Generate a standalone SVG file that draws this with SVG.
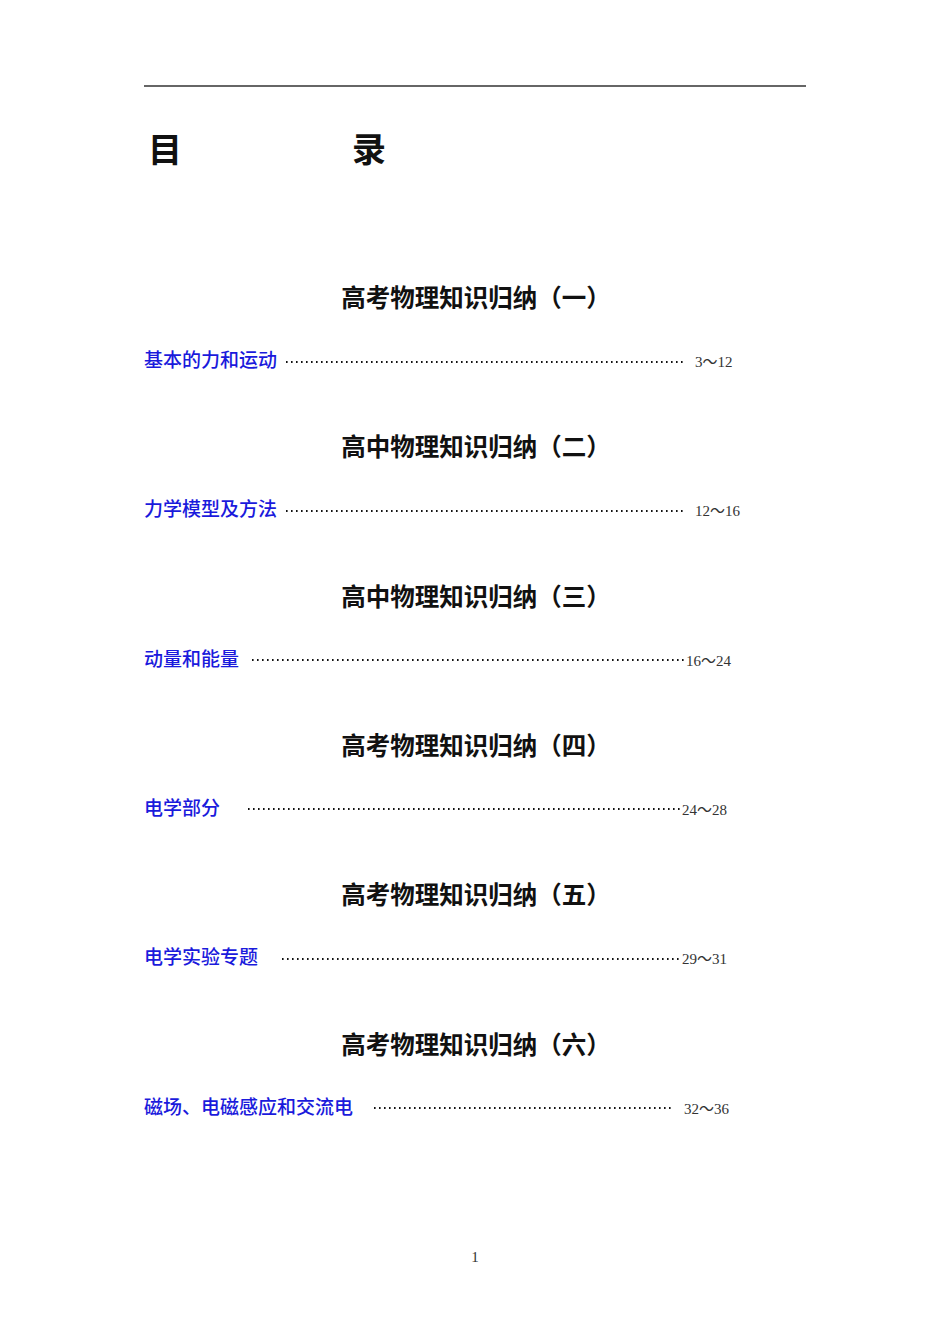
<svg xmlns="http://www.w3.org/2000/svg" width="950" height="1344" viewBox="0 0 950 1344">
<style>
.h{font-family:"Noto Sans CJK SC",sans-serif;font-size:24.5px;font-weight:bold;fill:#111;text-anchor:middle}
.t{font-family:"Noto Sans CJK SC",sans-serif;font-size:19px;font-weight:500;fill:#1a1adc}
.p{font-family:"Liberation Serif","Noto Sans CJK SC",serif;font-size:15px;fill:#333}
.d{stroke:#111;stroke-width:1.8;stroke-dasharray:1.6 3.4}
</style>
<rect width="950" height="1344" fill="#fff"/>
<line x1="144" y1="86" x2="806" y2="86" stroke="#333" stroke-width="1.3"/>
<g font-family="Noto Sans CJK SC,sans-serif" font-size="34" font-weight="bold" fill="#111">
<text x="148" y="162">目</text><text x="352" y="162">录</text>
</g>
<text class="h" x="476" y="307">高考物理知识归纳（一）</text>
<text class="t" x="144" y="367">基本的力和运动</text><line class="d" x1="286" y1="362" x2="686" y2="362"/><text class="p" x="695" y="367">3～12</text>
<text class="h" x="476" y="456">高中物理知识归纳（二）</text>
<text class="t" x="144" y="516">力学模型及方法</text><line class="d" x1="286" y1="511" x2="686" y2="511"/><text class="p" x="695" y="516">12～16</text>
<text class="h" x="476" y="606">高中物理知识归纳（三）</text>
<text class="t" x="144" y="666">动量和能量</text><line class="d" x1="252" y1="660" x2="686" y2="660"/><text class="p" x="686" y="666">16～24</text>
<text class="h" x="476" y="755">高考物理知识归纳（四）</text>
<text class="t" x="144" y="815">电学部分</text><line class="d" x1="248" y1="809" x2="682" y2="809"/><text class="p" x="682" y="815">24～28</text>
<text class="h" x="476" y="904">高考物理知识归纳（五）</text>
<text class="t" x="144" y="964">电学实验专题</text><line class="d" x1="282" y1="959" x2="682" y2="959"/><text class="p" x="682" y="964">29～31</text>
<text class="h" x="476" y="1054">高考物理知识归纳（六）</text>
<text class="t" x="144" y="1114">磁场、电磁感应和交流电</text><line class="d" x1="374" y1="1108" x2="674" y2="1108"/><text class="p" x="684" y="1114">32～36</text>
<text class="p" x="475" y="1262" text-anchor="middle" font-size="12">1</text>
</svg>
